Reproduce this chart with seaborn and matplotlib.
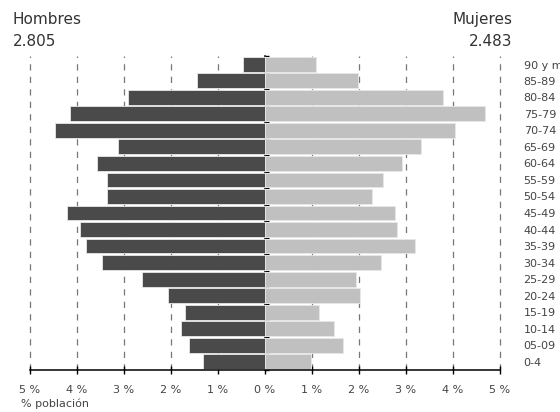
import matplotlib
matplotlib.use("Agg")
import matplotlib.pyplot as plt
import seaborn as sns
import pandas as pd
import numpy as np

ages = ["90 y más", "85-89", "80-84", "75-79", "70-74", "65-69", "60-64", "55-59",
        "50-54", "45-49", "40-44", "35-39", "30-34", "25-29", "20-24", "15-19",
        "10-14", "05-09", "0-4"]
hombres = [0.47, 1.45, 2.91, 4.15, 4.47, 3.13, 3.57, 3.36, 3.36, 4.21, 3.94, 3.81,
           3.47, 2.62, 2.06, 1.70, 1.79, 1.62, 1.32]
mujeres = [1.09, 1.98, 3.79, 4.68, 4.04, 3.32, 2.91, 2.51, 2.28, 2.77, 2.81, 3.19,
           2.47, 1.94, 2.02, 1.15, 1.47, 1.66, 0.98]
x_ticks = [-5, -4, -3, -2, -1, 0, 1, 2, 3, 4, 5]
x_labels = ["5 %", "4 %", "3 %", "2 %", "1 %", "0 %", "1 %", "2 %", "3 %", "4 %", "5 %"]
total_h = "2.805"
total_m = "2.483"

sns.set_theme(style="white")
plt.rcParams["font.family"] = ["DejaVu Sans"]

df_h = pd.DataFrame({"edad": ages, "pct": [-v for v in hombres]})
df_m = pd.DataFrame({"edad": ages, "pct": mujeres})

fig = plt.figure(figsize=(5.6, 4.12), dpi=100)
ax = fig.add_axes([30 / 560, 1 - 370 / 412, 470 / 560, 314 / 412])

for xv in x_ticks:
    if xv != 0:
        ax.axvline(xv, color="#777777", lw=0.9, ls=(0, (5, 5)), zorder=0, clip_on=False)

sns.barplot(data=df_h, x="pct", y="edad", order=ages, orient="h", color="#4a4a4a",
            saturation=1, width=0.9, edgecolor="#e8e8e8", linewidth=0.6, ax=ax, zorder=2)
sns.barplot(data=df_m, x="pct", y="edad", order=ages, orient="h", color="#c0c0c0",
            saturation=1, width=0.9, edgecolor="#e8e8e8", linewidth=0.6, ax=ax, zorder=2)

ax.set_xlim(-5, 5)
ax.set_ylim(len(ages) - 0.5, -0.5)
ax.set_xlabel("")
ax.set_ylabel("")
ax.set_xticks(x_ticks)
ax.set_xticklabels(x_labels, fontsize=8, color="#444444")
ax.tick_params(axis="x", direction="inout", length=6, width=1, color="black", pad=8,
               bottom=True)
ax.yaxis.tick_right()
ax.tick_params(axis="y", length=0, pad=17, labelsize=8, labelcolor="#444444")
for lab in ax.get_yticklabels():
    lab.set_ha("left")
for s in ["top", "left", "right"]:
    ax.spines[s].set_visible(False)
ax.spines["bottom"].set_color("black")
ax.spines["bottom"].set_linewidth(1.1)
ax.spines["bottom"].set_zorder(5)
ax.grid(False)

sec = ax.secondary_yaxis(0.5)
sec.set_yticks([i + 0.5 for i in range(-1, len(ages))])
sec.set_yticklabels([])
sec.tick_params(axis="y", direction="out", length=3, width=1, color="black")
sec.spines["left"].set_color("black")
sec.spines["left"].set_linewidth(1.1)
sec.spines["left"].set_zorder(5)

fig.text(13 / 560, 1 - 24 / 412, "Hombres", fontsize=11, color="#333333", ha="left", va="baseline")
fig.text(13 / 560, 1 - 46 / 412, total_h, fontsize=11, color="#333333", ha="left", va="baseline")
fig.text(512 / 560, 1 - 24 / 412, "Mujeres", fontsize=11, color="#333333", ha="right", va="baseline")
fig.text(512 / 560, 1 - 46 / 412, total_m, fontsize=11, color="#333333", ha="right", va="baseline")
fig.text(21 / 560, 1 - 404 / 412, "% población", fontsize=8, color="#444444", ha="left", va="center")

fig.savefig("out.png", dpi=100)
